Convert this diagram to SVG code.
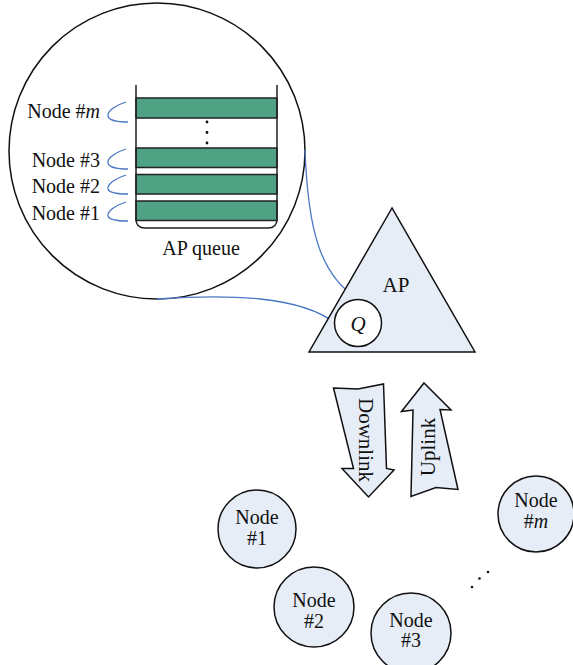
<svg xmlns="http://www.w3.org/2000/svg" width="573" height="665" viewBox="0 0 573 665">
  <style>
    .txt { font-family: "Liberation Serif", "Times New Roman", serif; font-size: 20px; fill: #111; }
    .it { font-style: italic; }
    .shape { fill: #e6edf7; stroke: #111; stroke-width: 1.5; }
    .bar { fill: #4fa283; stroke: #222; stroke-width: 1.5; }
    .link { fill: none; stroke: #4a78c2; stroke-width: 1.3; }
    .dot { fill: #111; }
  </style>
  <rect width="573" height="665" fill="#ffffff"/>

  <!-- magnified view of the AP queue -->
  <g id="queue-view">
    <circle cx="157" cy="151" r="148" fill="#ffffff" stroke="#111" stroke-width="1.5"/>
    <rect class="bar" x="136" y="98" width="141" height="20"/>
    <rect class="bar" x="136" y="148" width="141" height="19.5"/>
    <rect class="bar" x="136" y="174.5" width="141" height="19.5"/>
    <rect class="bar" x="136" y="201" width="141" height="19.5"/>
    <path d="M136,85 V219 Q136,228 145,228 H268 Q277,228 277,219 V85" fill="none" stroke="#222" stroke-width="1.5"/>
    <circle class="dot" cx="207" cy="122" r="1.4"/>
    <circle class="dot" cx="207" cy="132.5" r="1.4"/>
    <circle class="dot" cx="207" cy="143" r="1.4"/>
    <text class="txt" x="201" y="255" text-anchor="middle">AP queue</text>
    <!-- per-node queue labels -->
    <text class="txt" x="100" y="118" text-anchor="end">Node #<tspan class="it">m</tspan></text>
    <text class="txt" x="100" y="167" text-anchor="end">Node #3</text>
    <text class="txt" x="100" y="193" text-anchor="end">Node #2</text>
    <text class="txt" x="100" y="220" text-anchor="end">Node #1</text>
    <path class="link" d="M126,102 C116,105 107,111 108,116 C109,121 118,122 128,122"/>
    <path class="link" d="M126,149 C116,152 107,158 108,163 C109,168 118,169 128,169"/>
    <path class="link" d="M126,175 C116,178 107,184 108,189 C109,193 118,194 128,194"/>
    <path class="link" d="M126,202 C116,205 107,211 108,216 C109,220 118,221 128,221"/>
  </g>

  <!-- callout lines from the queue view to Q -->
  <g id="connectors">
    <path class="link" d="M305,150 C308,230 320,275 358,299"/>
    <path class="link" d="M157,299 C230,294 300,296 335,323"/>
  </g>

  <!-- access point -->
  <g id="ap">
    <polygon class="shape" points="392,208 309,352 475,352"/>
    <text class="txt" x="396" y="292" text-anchor="middle" style="font-size:21px">AP</text>
    <g id="q">
      <circle cx="358" cy="323" r="23.5" fill="#ffffff" stroke="#111" stroke-width="1.5"/>
      <text class="txt it" x="358" y="331" text-anchor="middle" style="font-size:21px">Q</text>
    </g>
  </g>

  <!-- downlink / uplink arrows -->
  <g id="downlink">
    <polygon class="shape" points="333.5,388 358,389 383.5,384 386.5,468.5 394,470 368.5,497 342,468.5 353.5,468.5"/>
    <text class="txt" transform="translate(358.5,440) rotate(90)" text-anchor="middle" style="font-size:21px">Downlink</text>
  </g>
  <g id="uplink">
    <polygon class="shape" points="424,383 451,410 440,409.5 458,489.5 436,487.5 411,496.5 413,410 401.5,411.5"/>
    <text class="txt" transform="translate(435,447) rotate(-90)" text-anchor="middle" style="font-size:21px">Uplink</text>
  </g>

  <!-- stations -->
  <g id="node-1">
    <circle class="shape" cx="257" cy="529" r="39"/>
    <text class="txt" x="257" y="524" text-anchor="middle">Node</text>
    <text class="txt" x="257" y="545" text-anchor="middle">#1</text>
  </g>
  <g id="node-2">
    <circle class="shape" cx="314" cy="607" r="40"/>
    <text class="txt" x="314" y="607" text-anchor="middle">Node</text>
    <text class="txt" x="314" y="628" text-anchor="middle">#2</text>
  </g>
  <g id="node-3">
    <circle class="shape" cx="411" cy="633" r="40"/>
    <text class="txt" x="411" y="627" text-anchor="middle">Node</text>
    <text class="txt" x="411" y="647" text-anchor="middle">#3</text>
  </g>
  <g id="node-m">
    <circle class="shape" cx="536" cy="514" r="38"/>
    <text class="txt" x="536" y="507" text-anchor="middle">Node</text>
    <text class="txt" x="536" y="528" text-anchor="middle">#<tspan class="it">m</tspan></text>
  </g>

  <g id="ellipsis">
    <circle class="dot" cx="472" cy="587" r="1.3"/>
    <circle class="dot" cx="479.5" cy="578.5" r="1.3"/>
    <circle class="dot" cx="488" cy="572" r="1.3"/>
  </g>
</svg>
